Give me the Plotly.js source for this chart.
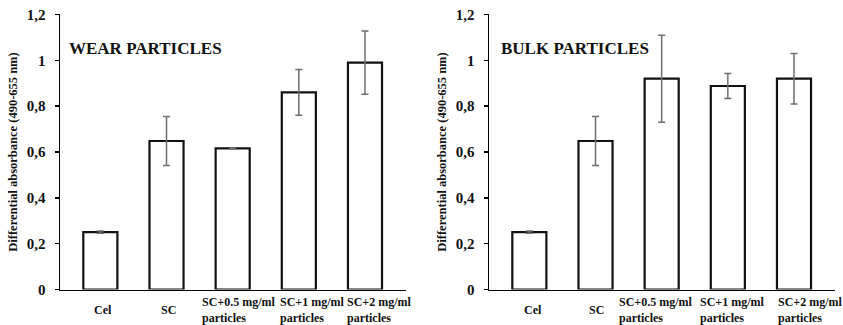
<!DOCTYPE html>
<html>
<head>
<meta charset="utf-8">
<script src="https://cdn.plot.ly/plotly-3.0.1.min.js"></script>
<style>html,body{margin:0;padding:0;background:#fff;}#chart{width:843px;height:325px;}</style>
</head>
<body>
<div id="chart"></div>
<script>
// ---- data ----
const categories = ["Cel", "SC", "SC+0.5 mg/ml particles", "SC+1 mg/ml particles", "SC+2 mg/ml particles"];
const tickLabels = ["Cel", "SC", "SC+0.5 mg/ml<br>particles", "SC+1 mg/ml<br>particles", "SC+2 mg/ml<br>particles"];
const wearValues = [0.25, 0.648, 0.616, 0.86, 0.99];
const wearErrors = [0.005, 0.107, 0.002, 0.10, 0.138];
const bulkValues = [0.25, 0.648, 0.92, 0.888, 0.92];
const bulkErrors = [0.005, 0.107, 0.19, 0.055, 0.11];
const panelTitles = ["WEAR PARTICLES", "BULK PARTICLES"];
const yTitle = "Differential absorbance (490-655 nm)";
const yTicks = [0, 0.2, 0.4, 0.6, 0.8, 1, 1.2];

// ---- style ----
const serif = "Liberation Serif, Tinos, Times New Roman, serif";
const barStyle = {color: "#ffffff", line: {color: "#111111", width: 2.2}};
const errStyle = {color: "#6e6e6e", thickness: 1.5, width: 3.5};

function barTrace(vals, errs, xa, ya) {
  return {
    type: "bar", x: categories, y: vals, xaxis: xa, yaxis: ya,
    width: 0.515, marker: barStyle,
    error_y: Object.assign({type: "data", array: errs, visible: true}, errStyle),
    hoverinfo: "x+y", showlegend: false
  };
}

const data = [
  barTrace(wearValues, wearErrors, "x", "y"),
  barTrace(bulkValues, bulkErrors, "x2", "y2")
];

function yAxis(anchor) {
  return {
    domain: [0.1092, 0.9554], anchor: anchor, range: [0, 1.2],
    tickvals: yTicks, ticks: "outside", ticklen: 4, tickwidth: 1.5, tickcolor: "#000",
    showline: true, linecolor: "#000", linewidth: 1.5, showgrid: false, zeroline: false,
    ticklabelstandoff: 6,
    tickfont: {family: serif, size: 15, color: "#111", weight: "bold"},
    title: {text: yTitle, standoff: 6, font: {family: serif, size: 12.5, color: "#111", weight: "bold"}}
  };
}
function xAxis(domain, anchor) {
  return {
    domain: domain, anchor: anchor, type: "category", range: [-0.61, 4.62],
    showline: true, linecolor: "#000", linewidth: 1.5, ticks: "", showticklabels: false,
    showgrid: false, zeroline: false
  };
}

// x-label horizontal nudges (pixels) for each panel
const leftShifts = [-8, -8, -33, -21, -20];
const rightShifts = [-7, -9, -45, -30, -18];

const annotations = [];
[["x", leftShifts], ["x2", rightShifts]].forEach(([xr, shifts]) => {
  categories.forEach((c, i) => {
    annotations.push({
      x: c, xref: xr, y: 0.045, yref: "paper",
      text: tickLabels[i], showarrow: false,
      xanchor: "left", yanchor: "middle", align: "left", xshift: shifts[i],
      font: {family: serif, size: 12, color: "#111", weight: "bold"}
    });
  });
});
annotations.push({
  x: 0.0795, xref: "paper", y: 0.852, yref: "paper", xanchor: "left", yanchor: "middle",
  text: panelTitles[0], showarrow: false,
  font: {family: serif, size: 17, color: "#111", weight: "bold"}
});
annotations.push({
  x: 0.592, xref: "paper", y: 0.852, yref: "paper", xanchor: "left", yanchor: "middle",
  text: panelTitles[1], showarrow: false,
  font: {family: serif, size: 17, color: "#111", weight: "bold"}
});

const layout = {
  width: 843, height: 325,
  margin: {l: 0, r: 0, t: 0, b: 0},
  paper_bgcolor: "#fff", plot_bgcolor: "#fff",
  separators: ",.",
  showlegend: false,
  font: {family: serif},
  xaxis: xAxis([60/843, 406/843], "y"),
  yaxis: yAxis("x"),
  xaxis2: xAxis([489/843, 835/843], "y2"),
  yaxis2: yAxis("x2"),
  annotations: annotations
};

Plotly.newPlot("chart", data, layout, {displayModeBar: false, staticPlot: true});
</script>
</body>
</html>
